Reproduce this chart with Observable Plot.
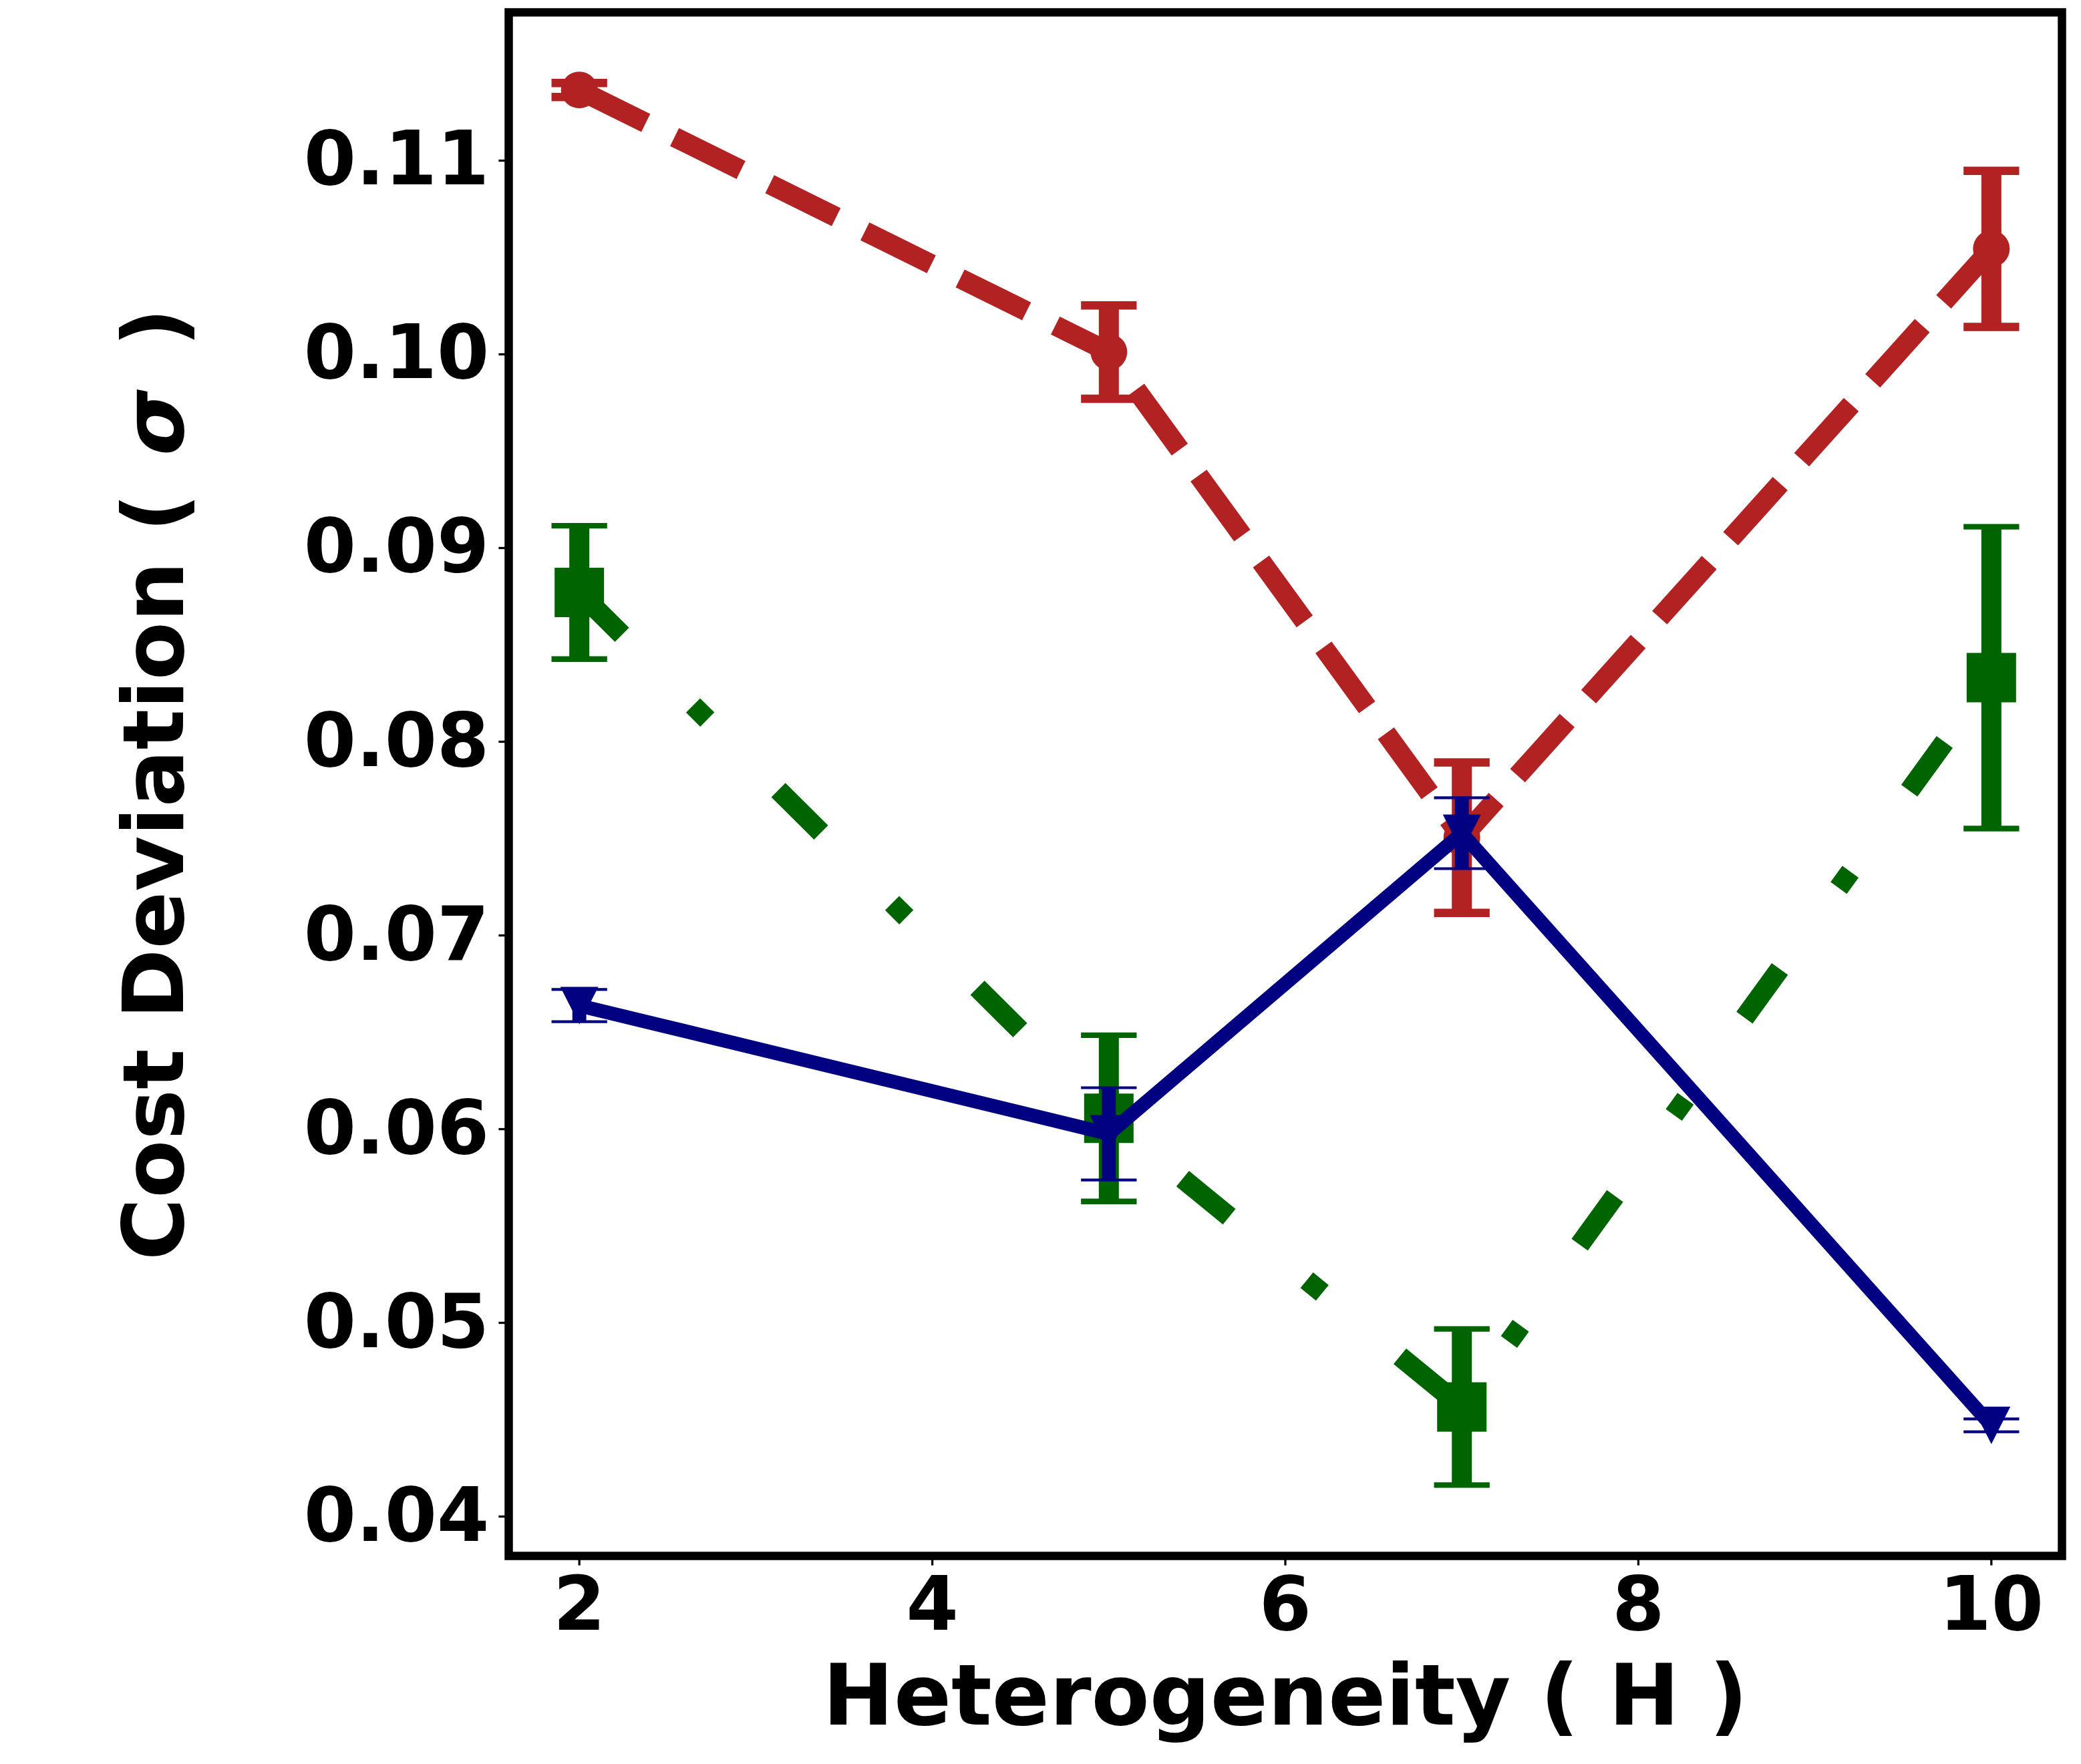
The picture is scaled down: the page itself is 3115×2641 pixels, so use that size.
<!DOCTYPE html>
<html>
<head>
<meta charset="utf-8">
<script src="https://cdn.jsdelivr.net/npm/d3@7"></script>
<script src="https://cdn.jsdelivr.net/npm/@observablehq/plot@0.6"></script>
<style>
  html, body { margin: 0; padding: 0; background: #ffffff; overflow: hidden; }
  #chart svg { display: block; }
</style>
</head>
<body>
<div id="chart"></div>
<script>
// ---- data ----
const hValues = [2, 5, 7, 10];

const redMean   = [0.11351, 0.09998, 0.07491, 0.10531];
const redErr    = [0.00036, 0.00241, 0.00388, 0.00403];

const greenMean = [0.08757, 0.06042, 0.04552, 0.08317];
const greenErr  = [0.00344, 0.00429, 0.00403, 0.00779];

const blueMean  = [0.06624, 0.05962, 0.07514, 0.04457];
const blueErr   = [0.00083, 0.00238, 0.00183, 0.00033];

const xTicks = [2, 4, 6, 8, 10];
const yTicks = [0.04, 0.05, 0.06, 0.07, 0.08, 0.09, 0.10, 0.11];
const xLabel = "Heterogeneity ( H )";
const yLabel = "Cost Deviation ( σ )";

// ---- marker shapes (pixel sizes, matplotlib-like) ----
const circleSym = {draw(ctx) { const r = 27.5; ctx.moveTo(r, 0); ctx.arc(0, 0, r, 0, 2 * Math.PI); ctx.closePath(); }};
const squareSym = {draw(ctx) { const h = 37; ctx.rect(-h, -h, 2 * h, 2 * h); }};
const triDownSym = {draw(ctx) { ctx.moveTo(-28.5, -28); ctx.lineTo(28.5, -28); ctx.lineTo(0, 28); ctx.closePath(); }};
const capSym = (w, h) => ({draw(ctx) { ctx.rect(-w / 2, -h / 2, w, h); }});

const lw = 30;
const series = [
  {name: "red",   color: "#b22222", mean: redMean,   err: redErr,   width: lw,    dash: `${3.7*lw},${1.6*lw}`, symbol: circleSym,  capThick: 12.5},
  {name: "green", color: "#006400", mean: greenMean, err: greenErr, width: lw,    dash: `${3*lw},${5*lw},${1*lw},${5*lw}`, symbol: squareSym, capThick: 8.3},
  {name: "blue",  color: "#000080", mean: blueMean,  err: blueErr,  width: 20.83, dash: null, symbol: triDownSym, capThick: 4.2}
];

const marks = [];
for (const s of series) {
  const rows = hValues.map((x, i) => ({x, v: s.mean[i], e: s.err[i]}));
  marks.push(Plot.ruleX(rows, {x: "x", y1: d => d.v - d.e, y2: d => d.v + d.e, stroke: s.color, strokeWidth: s.width}));
  marks.push(Plot.dot(rows, {x: "x", y: d => d.v - d.e, symbol: capSym(83.3, s.capThick), fill: s.color, stroke: "none"}));
  marks.push(Plot.dot(rows, {x: "x", y: d => d.v + d.e, symbol: capSym(83.3, s.capThick), fill: s.color, stroke: "none"}));
  marks.push(Plot.line(rows, {x: "x", y: "v", stroke: s.color, strokeWidth: s.width,
    strokeDasharray: s.dash ?? undefined, strokeLinecap: "butt", strokeLinejoin: "round"}));
  marks.push(Plot.dot(rows, {x: "x", y: "v", symbol: s.symbol, fill: s.color, stroke: "none"}));
}

const chart = Plot.plot({
  width: 3115,
  height: 2641,
  marginLeft: 761,
  marginRight: 29,
  marginTop: 18,
  marginBottom: 312,
  style: {fontFamily: "DejaVu Sans", fontWeight: "bold", color: "black", background: "white"},
  x: {domain: [1.6, 10.4]},
  y: {domain: [0.037828, 0.117517]},
  marks: [
    ...marks,
    Plot.axisX(xTicks, {tickSize: 14.6, tickPadding: 16, strokeWidth: 3.3, fontSize: 112.5, label: null, tickFormat: d3.format("d")}),
    Plot.axisY(yTicks, {tickSize: 14.6, tickPadding: 14.6, strokeWidth: 3.3, fontSize: 112.5, label: null, tickFormat: d3.format(".2f"), dy: 4}),
    Plot.text([xLabel], {text: d => d, frameAnchor: "bottom", textAnchor: "middle", lineAnchor: "bottom", dy: 252, fontSize: 127, fontWeight: "bold"}),
    Plot.text([yLabel], {text: d => d, frameAnchor: "left", textAnchor: "middle", rotate: -90, lineAnchor: "bottom", dx: -488, fontSize: 127, fontWeight: "bold"}),
    Plot.frame({stroke: "black", strokeWidth: 12.5})
  ]
});

document.getElementById("chart").appendChild(chart);

// italic (math-style) sigma inside the y label, with a little extra spacing
d3.select(chart).selectAll("text").filter(function() { return this.textContent === yLabel; }).each(function() {
  const parts = yLabel.split("σ");
  const t = d3.select(this);
  t.text(null);
  t.append("tspan").text(parts[0]);
  t.append("tspan").attr("font-style", "italic").attr("dx", 12).text("σ");
  t.append("tspan").attr("dx", 20).text(parts[1]);
});
</script>
</body>
</html>
